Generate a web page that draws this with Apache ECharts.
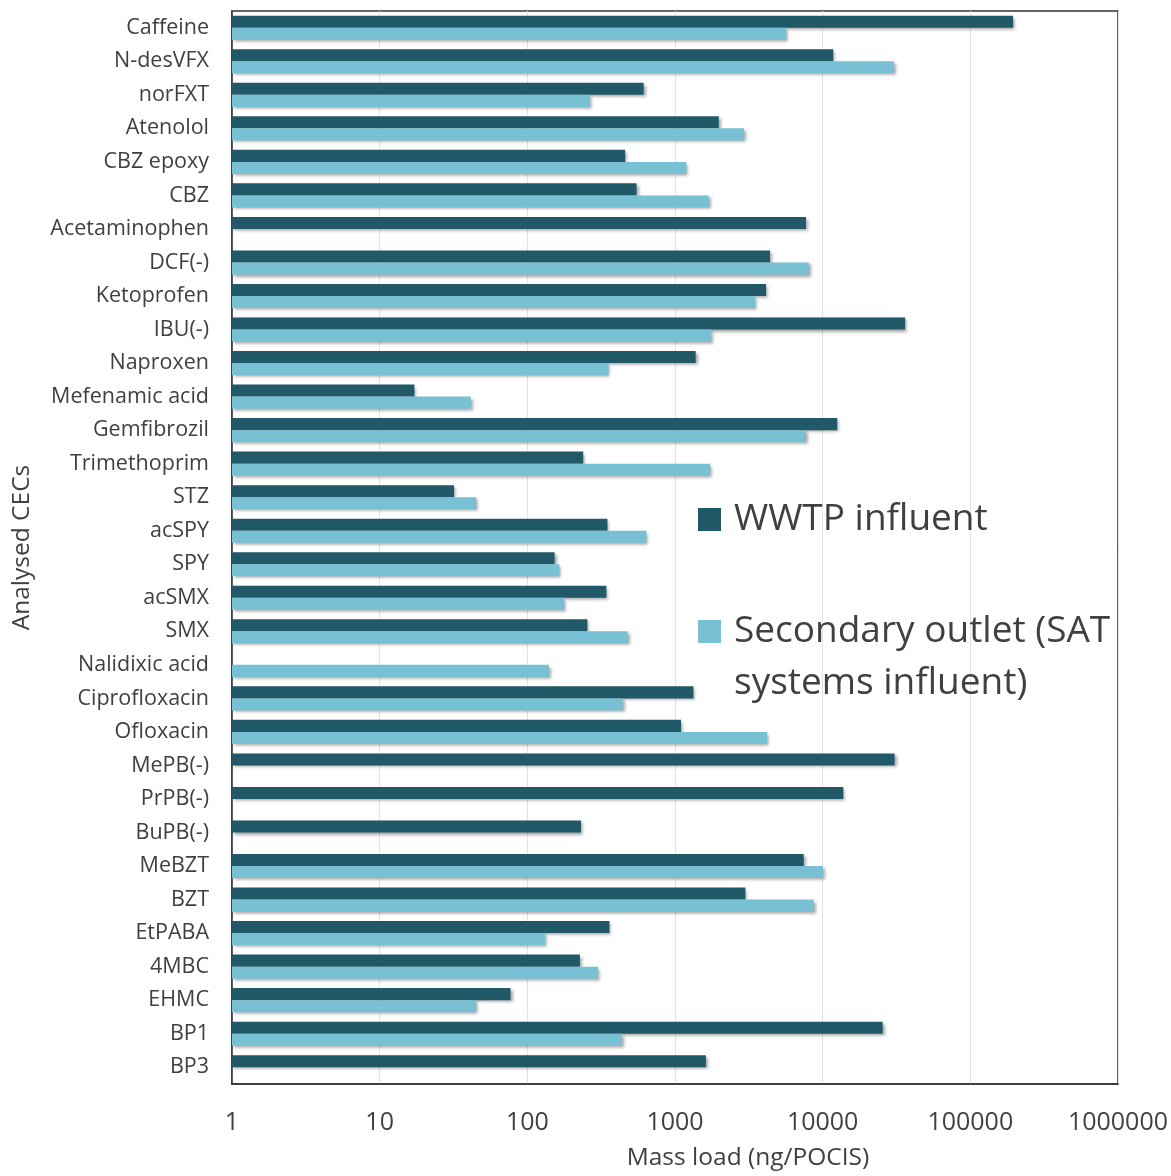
<!DOCTYPE html>
<html>
<head>
  <meta charset="utf-8">
  <title>Mass load of CECs</title>
  <script src="https://cdn.jsdelivr.net/npm/echarts@6/dist/echarts.min.js"></script>
  <style>
    html, body { margin: 0; padding: 0; background: #fff; width: 100%; height: 100%; overflow: hidden; }
    #chart { width: 1171px; height: 1176px; }
  </style>
</head>
<body>
  <div id="chart"></div>
  <script>
    // compounds, top to bottom
    const compounds = ['Caffeine', 'N-desVFX', 'norFXT', 'Atenolol', 'CBZ epoxy', 'CBZ', 'Acetaminophen',
      'DCF(-)', 'Ketoprofen', 'IBU(-)', 'Naproxen', 'Mefenamic acid', 'Gemfibrozil', 'Trimethoprim',
      'STZ', 'acSPY', 'SPY', 'acSMX', 'SMX', 'Nalidixic acid', 'Ciprofloxacin', 'Ofloxacin',
      'MePB(-)', 'PrPB(-)', 'BuPB(-)', 'MeBZT', 'BZT', 'EtPABA', '4MBC', 'EHMC', 'BP1', 'BP3'];

    // ng/POCIS, null = not detected
    const wwtpInfluent = [195000, 11800, 614, 1980, 460, 549, 7710,
      4400, 4140, 36200, 1380, 17.2, 12560, 239,
      31.9, 349, 153, 343, 255, null, 1334, 1099,
      30700, 13800, 231, 7450, 3000, 360, 227, 77, 25500, 1620];

    const secondaryOutlet = [5680, 30300, 266, 2930, 1195, 1694, null,
      8050, 3485, 1750, 354, 41.4, 7710, 1733,
      45.2, 641, 165, 178, 478, 140, 442, 4210,
      null, null, null, 10050, 8710, 132, 302, 45, 437, null];

    const xTicks = [1, 10, 100, 1000, 10000, 100000, 1000000];

    const seriesNames = ['WWTP influent', 'Secondary outlet (SAT systems influent)'];

    const chart = echarts.init(document.getElementById('chart'));
    const font = '"Open Sans", sans-serif';
    const textColor = '#404040';
    const shadow = {
      shadowColor: 'rgba(0,0,0,0.35)',
      shadowBlur: 3,
      shadowOffsetX: 2,
      shadowOffsetY: 2
    };
    const legendRich = {
      t: { fontSize: 37, color: textColor, fontFamily: font, lineHeight: 52, padding: [0, 0, 0, 8] },
      e: { fontSize: 37, lineHeight: 52 }
    };

    const option = {
      animation: false,
      textStyle: { fontFamily: font },
      grid: {
        left: 232, right: 52, top: 11, bottom: 88,
        show: true, borderColor: '#333', borderWidth: 1.5
      },
      legend: [{
        data: [seriesNames[0]],
        orient: 'vertical',
        left: 693, top: 496,
        icon: 'rect', itemWidth: 23, itemHeight: 23,
        formatter: function () { return '{t|WWTP influent}'; },
        textStyle: { rich: legendRich }
      }, {
        data: [seriesNames[1]],
        orient: 'vertical',
        left: 693, top: 556,
        icon: 'rect', itemWidth: 23, itemHeight: 23,
        formatter: function () { return '{e| }\n{t|Secondary outlet (SAT}\n{t|systems influent)}'; },
        textStyle: { rich: legendRich }
      }],
      xAxis: {
        type: 'log',
        logBase: 10,
        min: xTicks[0],
        max: xTicks[xTicks.length - 1],
        name: 'Mass load (ng/POCIS)',
        nameLocation: 'middle',
        nameGap: 62,
        nameTextStyle: { fontSize: 24.5, color: textColor, fontFamily: font, padding: [0, 0, 0, 146] },
        axisLine: { show: true, lineStyle: { color: '#333', width: 1.5 } },
        axisTick: { show: false },
        axisLabel: {
          fontSize: 25, color: textColor, margin: 26,
          formatter: function (v) { return String(Math.round(v)); }
        },
        splitLine: { show: true, lineStyle: { color: '#e3e3e3', width: 1 } }
      },
      yAxis: {
        type: 'category',
        data: compounds,
        inverse: true,
        name: 'Analysed CECs',
        nameLocation: 'middle',
        nameRotate: 90,
        nameGap: 197,
        nameTextStyle: { fontSize: 24.5, color: textColor, fontFamily: font },
        axisLine: { show: true, lineStyle: { color: '#333', width: 1.5 } },
        axisTick: { show: false },
        axisLabel: { fontSize: 21.5, color: textColor, margin: 23 },
        splitLine: { show: false }
      },
      series: [{
        name: seriesNames[0],
        type: 'bar',
        data: wwtpInfluent,
        barGap: '0%',
        barCategoryGap: '28%',
        itemStyle: Object.assign({ color: '#215968' }, shadow)
      }, {
        name: seriesNames[1],
        type: 'bar',
        data: secondaryOutlet,
        barGap: '0%',
        barCategoryGap: '28%',
        itemStyle: Object.assign({ color: '#78c1d5' }, shadow)
      }]
    };

    chart.setOption(option);
  </script>
</body>
</html>
